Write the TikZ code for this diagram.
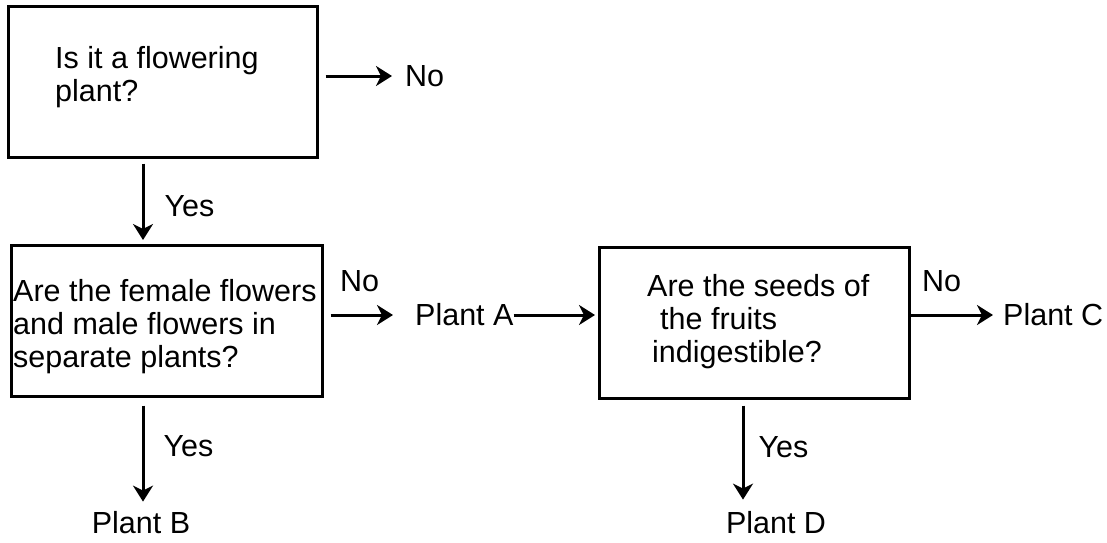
\documentclass[tikz,border=0pt]{standalone}
\usepackage{fontspec}
\setmainfont{Liberation Sans}
\usetikzlibrary{arrows.meta}

\begin{document}
\begin{tikzpicture}[x=1pt,y=-1pt,
        box/.style={draw,line width=2.6pt,anchor=north west,inner sep=0pt},
        txt/.style={font=\fontsize{30.5}{33}\selectfont,inner sep=0pt,align=left},
        arr/.style={line width=3pt,-{Stealth[length=16pt,width=20pt,inset=5pt]}}]
        \useasboundingbox (0,0) rectangle (1107,542);
        \node[box,minimum width=309pt,minimum height=151pt] (q1) at (7,5) {};
        \node[box,minimum width=311pt,minimum height=151pt] (q2) at (10,244) {};
        \node[box,minimum width=310pt,minimum height=151pt] (q3) at (598,246) {};
        \node[txt,anchor=north west] (t1) at (55,46) {Is it a flowering\\plant?};
        \node[txt,anchor=north west] (t2) at (13,279) {Are the female flowers\\and male flowers in\\separate plants?};
        \node[txt,anchor=north west] (t3) at (647,274) {Are the seeds of\\\hspace*{13pt}the fruits\\\hspace*{5pt}indigestible?};
        \coordinate (c1) at (143,0);
        \coordinate (c3) at (743,0);
        \node[txt,anchor=west] (no1) at (405,76) {No};
        \node[txt,anchor=west] (no2) at (340,281) {No};
        \node[txt,anchor=west] (no3) at (922,281) {No};
        \node[txt,anchor=west] (pa) at (415,315) {Plant A};
        \node[txt,anchor=west] (pc) at (1003,315) {Plant C};
        \node[txt] (pb) at (141,523) {Plant B};
        \node[txt] (pd) at (776,523) {Plant D};
        \draw[arr,shorten <=7pt,shorten >=13pt] (q1.east |- no1) -- (no1.west);
        \draw[arr,shorten <=5pt,shorten >=4pt] (q1.south -| c1) -- 
         node[txt,anchor=west,xshift=20pt,yshift=-5pt] (yes1) {Yes} (q2.north -| c1);
        \draw[arr,shorten <=7pt,shorten >=22pt] (q2.east |- pa) -- (pa.west);
        \draw[arr,shorten >=3pt] (pa.east) -- (q3.west |- pa);
        \draw[arr,shorten >=10pt] (q3.east |- pc) -- (pc.west);
        \draw[arr,shorten <=8pt,shorten >=10pt] (q2.south -| c1) -- 
         node[txt,anchor=west,xshift=19pt,yshift=8pt] (yes2) {Yes} (pb.north -| c1);
        \draw[arr,shorten <=6pt,shorten >=12pt] (q3.south -| c3) -- 
         node[txt,anchor=west,xshift=14pt,yshift=8pt] (yes3) {Yes} (pd.north -| c3);
    \end{tikzpicture}
\end{document}
